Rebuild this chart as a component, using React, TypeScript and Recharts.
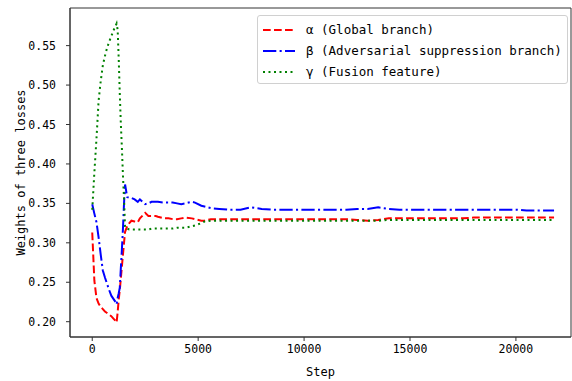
import React from "react";
import { LineChart, Line, XAxis, YAxis, ReferenceArea } from "recharts";

// training steps (shared x values)
const steps = [
  0, 100, 200, 300, 400, 500, 600, 700, 800, 900, 1000, 1100,
  1150, 1200, 1250, 1300, 1350, 1400, 1450, 1500, 1550,
  1650, 1750, 1850, 2000, 2150, 2250, 2500, 2650, 2800, 3000, 3100,
  3400, 3600, 3800, 4000, 4200, 4400, 4700, 4850, 5150, 5300, 5600,
  6000, 6500, 7000, 7500, 8000, 8500, 9000, 9500, 10000, 10500, 11000,
  11500, 12000, 12500, 13000, 13500, 14000, 14500, 15000, 15500, 16000,
  16500, 17000, 17500, 18000, 18500, 19000, 19500, 20000, 20500, 21000, 21800,
];

// α (Global branch)
const alpha = [
  0.313, 0.252, 0.23, 0.223, 0.219, 0.216, 0.213, 0.211, 0.209, 0.207, 0.204, 0.201,
  0.199, 0.212, 0.228, 0.24, 0.255, 0.27, 0.285, 0.3, 0.314,
  0.321, 0.325, 0.328, 0.327, 0.326, 0.331, 0.338, 0.334, 0.334, 0.334, 0.333,
  0.331, 0.331, 0.33, 0.33, 0.331, 0.332, 0.331, 0.33, 0.328, 0.328, 0.33,
  0.33, 0.33, 0.33, 0.33, 0.33, 0.33, 0.33, 0.33, 0.33, 0.33, 0.33,
  0.33, 0.33, 0.329, 0.328, 0.329, 0.331, 0.331, 0.331, 0.331, 0.331,
  0.331, 0.331, 0.331, 0.332, 0.332, 0.332, 0.332, 0.332, 0.332, 0.332, 0.332,
];

// β (Adversarial suppression branch)
const beta = [
  0.349, 0.337, 0.326, 0.307, 0.285, 0.265, 0.256, 0.248, 0.24, 0.233, 0.229, 0.225,
  0.222, 0.23, 0.236, 0.243, 0.268, 0.292, 0.318, 0.35, 0.374,
  0.358, 0.357, 0.357, 0.355, 0.352, 0.355, 0.349, 0.35, 0.352, 0.352, 0.352,
  0.351, 0.351, 0.351, 0.35, 0.349, 0.35, 0.352, 0.351, 0.347, 0.346, 0.344,
  0.343, 0.342, 0.342, 0.345, 0.343, 0.342, 0.342, 0.342, 0.342, 0.342, 0.342,
  0.342, 0.342, 0.343, 0.343, 0.345, 0.343, 0.342, 0.342, 0.342, 0.342,
  0.342, 0.342, 0.342, 0.342, 0.342, 0.342, 0.342, 0.342, 0.341, 0.341, 0.341,
];

// γ (Fusion feature)
const gamma = [
  0.342, 0.389, 0.432, 0.48, 0.505, 0.525, 0.537, 0.547, 0.555, 0.562, 0.569, 0.575,
  0.578, 0.57, 0.533, 0.489, 0.451, 0.42, 0.385, 0.356, 0.319,
  0.318, 0.317, 0.317, 0.317, 0.317, 0.317, 0.317, 0.317, 0.318, 0.318, 0.318,
  0.318, 0.318, 0.318, 0.319, 0.319, 0.319, 0.321, 0.322, 0.325, 0.327, 0.328,
  0.328, 0.328, 0.328, 0.328, 0.328, 0.328, 0.328, 0.328, 0.328, 0.328, 0.328,
  0.328, 0.328, 0.328, 0.328, 0.328, 0.329, 0.329, 0.329, 0.329, 0.329,
  0.329, 0.329, 0.329, 0.329, 0.329, 0.329, 0.329, 0.329, 0.329, 0.329, 0.329,
];

const xTicks = [0, 5000, 10000, 15000, 20000];
const yTicks = [0.2, 0.25, 0.3, 0.35, 0.4, 0.45, 0.5, 0.55];

const data = steps.map((s, i) => ({
  step: s,
  alpha: alpha[i],
  beta: beta[i],
  gamma: gamma[i],
}));

const FONT = '"DejaVu Sans Mono", monospace';
const X_DOMAIN = [-1050, 22600];
const Y_DOMAIN = [0.1806, 0.5977];

const series = [
  { key: "alpha", name: "α (Global branch)", color: "#ff0000", dash: "7.7 3.3" },
  { key: "beta", name: "β (Adversarial suppression branch)", color: "#0000ff", dash: "13.3 3.3 2.1 3.3" },
  { key: "gamma", name: "γ (Fusion feature)", color: "#008000", dash: "2 3.5" },
];

const LegendBox = () => (
  <div
    style={{
      position: "absolute",
      left: 257,
      top: 15,
      width: 311,
      height: 69,
      border: "1px solid #d0d0d0",
      borderRadius: 3,
      background: "rgba(255,255,255,0.8)",
      padding: "3px 0 0 5px",
      fontFamily: FONT,
      fontSize: 12.5,
      color: "#000",
      boxSizing: "border-box",
      whiteSpace: "nowrap",
    }}
  >
    {series.map((s) => (
      <div key={s.key} style={{ display: "flex", alignItems: "center", height: 21 }}>
        <svg width={32} height={10} style={{ marginRight: 11 }}>
          <line x1={0} y1={5} x2={32} y2={5} stroke={s.color} strokeWidth={2} strokeDasharray={s.dash} />
        </svg>
        <span>{s.name}</span>
      </div>
    ))}
  </div>
);

export default function App() {
  return (
    <div style={{ position: "absolute", left: 0, top: 0, width: 572, height: 381, background: "#fff" }}>
      <LineChart
        width={572}
        height={381}
        data={data}
        margin={{ top: 8, right: 1, left: 0, bottom: 0 }}
      >
        <XAxis
          dataKey="step"
          type="number"
          domain={X_DOMAIN}
          allowDataOverflow
          ticks={xTicks}
          height={44}
          tickSize={4}
          tickMargin={4}
          stroke="#333"
          tick={{ fontSize: 11.5, fill: "#000", fontFamily: FONT }}
          label={{
            value: "Step",
            position: "center",
            dy: 13,
            style: { fontSize: 12, fill: "#000", fontFamily: FONT },
          }}
        />
        <YAxis
          type="number"
          domain={Y_DOMAIN}
          allowDataOverflow
          ticks={yTicks}
          width={70}
          tickSize={4}
          tickMargin={10}
          stroke="#333"
          tickFormatter={(v: number) => v.toFixed(2)}
          tick={{ fontSize: 11.5, fill: "#000", fontFamily: FONT }}
          label={{
            value: "Weights of three losses",
            angle: -90,
            position: "center",
            dx: -14,
            style: { fontSize: 12, fill: "#000", fontFamily: FONT },
          }}
        />
        <ReferenceArea
          x1={X_DOMAIN[0]}
          x2={X_DOMAIN[1]}
          y1={Y_DOMAIN[0]}
          y2={Y_DOMAIN[1]}
          fill="none"
          stroke="#333"
          strokeWidth={1}
          ifOverflow="extendDomain"
        />
        {series.map((s) => (
          <Line
            key={s.key}
            dataKey={s.key}
            name={s.name}
            type="linear"
            stroke={s.color}
            strokeWidth={2}
            strokeDasharray={s.dash}
            dot={false}
            isAnimationActive={false}
          />
        ))}
      </LineChart>
      <LegendBox />
    </div>
  );
}
